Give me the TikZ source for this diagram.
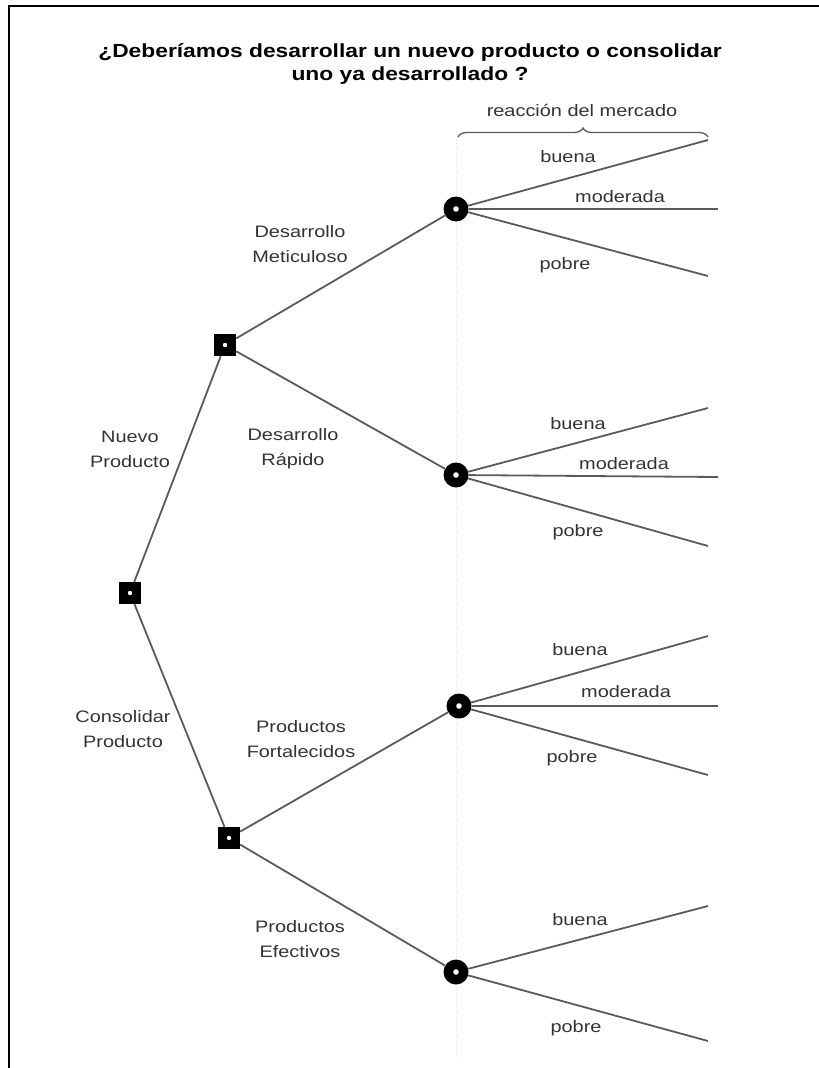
\documentclass[tikz,border=0pt]{standalone}
\usepackage{fontspec}
\setmainfont{Liberation Sans}
\newfontfamily\lblfont[FakeStretch=1.2]{Liberation Sans}
\usetikzlibrary{decorations.pathreplacing}
\definecolor{linegray}{HTML}{5A5A5A}
\definecolor{textgray}{HTML}{333333}
\tikzset{
  decision/.style={rectangle, fill=black, minimum size=22pt, inner sep=0pt,
    path picture={\fill[white] (path picture bounding box.center) circle (2.2pt);}},
  chance/.style={circle, fill=black, minimum size=25pt, inner sep=0pt,
    path picture={\fill[white] (path picture bounding box.center) circle (2.8pt);}},
  branch/.style={draw=linegray, line width=1.8pt},
  lbl/.style={text=textgray, align=center, inner sep=0pt,
    font=\lblfont\fontsize{16.6}{25}\selectfont},
  ttl/.style={text=black, align=center, inner sep=0pt,
    font=\lblfont\bfseries\fontsize{19}{23}\selectfont},
  frame/.style={draw=black, line width=2pt}
}
\begin{document}
\begin{tikzpicture}[x=1pt,y=-1pt]
\useasboundingbox (0,0) rectangle (819,1068);
% frame
\coordinate (fl) at (9,1068);
\coordinate (fc) at (9,6);
\coordinate (fr) at (819,6);
\draw[frame] (fl) -- (fc) -- (fr);
% faint dotted guide
\coordinate (g1) at (456,140);
\coordinate (g2) at (456,1060);
\draw[black!12, line width=1pt, dotted] (g1) -- (g2);
% title
\node[ttl] (title) at (410,64) {¿Deberíamos desarrollar un nuevo producto o consolidar\\uno ya desarrollado ?};
\node[lbl] (rm) at (582,110) {reacción del mercado};
\coordinate (bl) at (458,137);
\coordinate (br) at (708,137);
\draw[linegray, line width=1.3pt, decorate, decoration={brace, amplitude=9pt}] (bl) -- (br);
% nodes
\node[decision] (root) at (130,593) {};
\node[decision] (np) at (225,345) {};
\node[decision] (cp) at (229,838) {};
\node[chance] (c1) at (456,209) {};
\node[chance] (c2) at (456,475) {};
\node[chance] (c3) at (459,706) {};
\node[chance] (c4) at (456,972) {};
% ends
\coordinate (c1b) at (708,140); \coordinate (c1m) at (718,209); \coordinate (c1p) at (708,276);
\coordinate (c2b) at (708,408); \coordinate (c2m) at (718,477); \coordinate (c2p) at (708,546);
\coordinate (c3b) at (708,636); \coordinate (c3m) at (718,706); \coordinate (c3p) at (708,775);
\coordinate (c4b) at (708,906); \coordinate (c4p) at (708,1041);
% connectors
\draw[branch] (root) -- (np);
\draw[branch] (root) -- (cp);
\draw[branch] (np) -- (c1);
\draw[branch] (np) -- (c2);
\draw[branch] (cp) -- (c3);
\draw[branch] (cp) -- (c4);
\draw[branch] (c1) -- (c1b); \draw[branch] (c1) -- (c1m); \draw[branch] (c1) -- (c1p);
\draw[branch] (c2) -- (c2b); \draw[branch] (c2) -- (c2m); \draw[branch] (c2) -- (c2p);
\draw[branch] (c3) -- (c3b); \draw[branch] (c3) -- (c3m); \draw[branch] (c3) -- (c3p);
\draw[branch] (c4) -- (c4b); \draw[branch] (c4) -- (c4p);
% labels
\node[lbl] (l1b) at (568,157) {buena};
\node[lbl] (l1m) at (620,197) {moderada};
\node[lbl] (l1p) at (565,265) {pobre};
\node[lbl] (l2b) at (578,424) {buena};
\node[lbl] (l2m) at (624,464) {moderada};
\node[lbl] (l2p) at (578,532) {pobre};
\node[lbl] (l3b) at (580,650) {buena};
\node[lbl] (l3m) at (626,692) {moderada};
\node[lbl] (l3p) at (572,758) {pobre};
\node[lbl] (l4b) at (580,920) {buena};
\node[lbl] (l4p) at (576,1028) {pobre};
\node[lbl] (dm) at (300,244) {Desarrollo\\Meticuloso};
\node[lbl] (dr) at (293,449) {Desarrollo\\Rápido};
\node[lbl] (nuevo) at (130,449) {Nuevo\\Producto};
\node[lbl] (cons) at (123,729) {Consolidar\\Producto};
\node[lbl] (pf) at (301,739) {Productos\\Fortalecidos};
\node[lbl] (pe) at (300,939) {Productos\\Efectivos};
\end{tikzpicture}
\end{document}
